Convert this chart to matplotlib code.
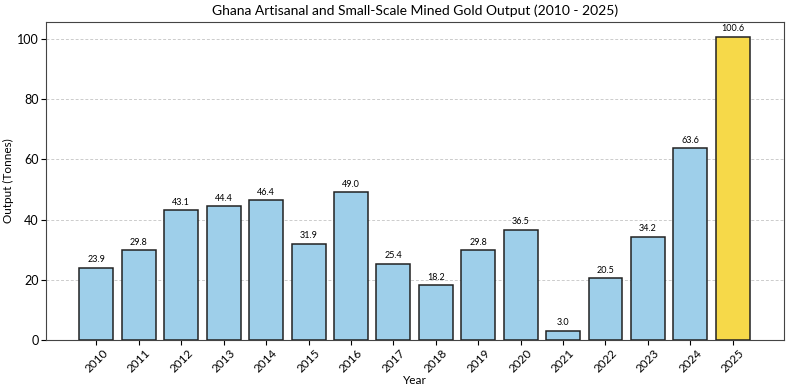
import matplotlib.pyplot as plt

plt.rcParams["font.family"] = ["Lato", "DejaVu Sans"]

years = ["2010", "2011", "2012", "2013", "2014", "2015", "2016", "2017",
         "2018", "2019", "2020", "2021", "2022", "2023", "2024", "2025"]
output = [23.9, 29.8, 43.1, 44.4, 46.4, 31.9, 49.0, 25.4,
          18.2, 29.8, 36.5, 3.0, 20.5, 34.2, 63.6, 100.6]

colors = ["#9ecfea"] * (len(years) - 1) + ["#f6d949"]

fig = plt.figure(figsize=(7.86, 3.9), dpi=100)
ax = fig.add_axes([0.059, 0.128, 0.938, 0.816])

x = range(len(years))
bars = ax.bar(x, output, width=0.8, color=colors, edgecolor="#222222",
              linewidth=1.1, zorder=3)

for bar, val in zip(bars, output):
    ax.text(bar.get_x() + bar.get_width() / 2, val + 1.2, f"{val:.1f}",
            ha="center", va="bottom", fontsize=6.5)

ax.set_xticks(list(x))
ax.set_xticklabels(years, rotation=45, fontsize=8.5)
ax.tick_params(axis="x", pad=2)
ax.tick_params(axis="y", labelsize=9, pad=2)
ax.set_xlim(-1.18, 16.2)
ax.set_ylim(0, max(output) * 1.05)

for s in ax.spines.values():
    s.set_color("#444444")

ax.grid(axis="y", linestyle=(0, (3, 2)), color="#cccccc", linewidth=0.7,
        zorder=0)

ax.set_title("Ghana Artisanal and Small-Scale Mined Gold Output (2010 - 2025)",
             fontsize=10, pad=5)
ax.set_xlabel("Year", fontsize=8.5, labelpad=0)
ax.set_ylabel("Output (Tonnes)", fontsize=8.5, labelpad=2)

fig.savefig("out.png", dpi=100)
plt.close(fig)
